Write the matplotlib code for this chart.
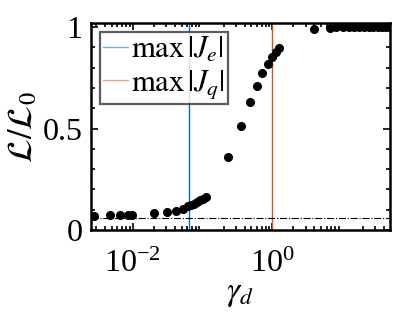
import numpy as np
import matplotlib
matplotlib.use('Agg')
import matplotlib.pyplot as plt
from matplotlib.ticker import MultipleLocator, LogLocator, NullFormatter

plt.rcParams['font.family'] = ['Liberation Serif', 'DejaVu Serif']
plt.rcParams['mathtext.fontset'] = 'stix'

# data
gamma = [0.00276, 0.00468, 0.00645, 0.00857, 0.00958, 0.0202, 0.0304, 0.041,
         0.0526, 0.062, 0.068, 0.075, 0.083, 0.092, 0.102, 0.112,
         0.232, 0.353, 0.475, 0.606, 0.723, 0.862, 0.993, 1.12, 1.25,
         3.97, 6.83, 8.33, 10.4, 12.5, 15.0, 17.5, 20.5, 24.0, 28.0, 32.5, 37.5, 43.0, 48.0]
ratio = [0.070, 0.074, 0.074, 0.075, 0.075, 0.082, 0.089, 0.095,
         0.105, 0.117, 0.122, 0.130, 0.138, 0.146, 0.155, 0.163,
         0.361, 0.512, 0.629, 0.711, 0.772, 0.818, 0.851, 0.875, 0.895,
         0.990, 0.998, 1.0, 1.0, 1.0, 1.0, 1.0, 1.0, 1.0, 1.0, 1.0, 1.0, 1.0, 1.0]
baseline = 0.058
max_Je = 0.064
max_Jq = 0.99

fig = plt.figure(figsize=(4.15, 3.12), dpi=100)
ax = fig.add_axes([0.219, 0.263, 0.7196, 0.663])

ax.axvline(max_Je, color='#0072BD', lw=1.0, label=r'$\max\,|J_e|$')
ax.axvline(max_Jq, color='#D95319', lw=1.0, label=r'$\max\,|J_q|$')
ax.axhline(baseline, color='k', lw=0.8, ls='-.')
ax.plot(gamma, ratio, 'o', color='k', ms=5.5, zorder=3)

ax.set_xscale('log')
ax.set_xlim(0.0025, 48)
ax.set_ylim(0, 1.02)
ax.set_xticks([1e-2, 1e0])
ax.xaxis.set_minor_locator(LogLocator(base=10, subs=np.arange(2, 10), numticks=20))
ax.xaxis.set_minor_formatter(NullFormatter())
ax.set_yticks([0, 0.5, 1])
ax.set_yticklabels(['0', '0.5', '1'])
ax.yaxis.set_minor_locator(MultipleLocator(0.1))

ax.tick_params(which='both', direction='in', top=True, right=True, labelsize=23, width=1.2)
ax.tick_params(which='major', length=5, pad=6)
ax.tick_params(axis='x', which='major', pad=14)
ax.tick_params(which='minor', length=3)
for s in ax.spines.values():
    s.set_linewidth(1.8)

ax.set_xlabel(r'$\gamma_d$', fontsize=24, labelpad=0)
ax.set_ylabel(r'$\mathcal{L}/\mathcal{L}_0$', fontsize=25, labelpad=2)

leg = ax.legend(loc='upper left', fontsize=22, frameon=True, fancybox=False,
                edgecolor='#333333', handlelength=0.8, handletextpad=0.1,
                handleheight=0.7, borderpad=0.1, labelspacing=0.12, borderaxespad=0.3)
leg.get_frame().set_linewidth(1.6)
for h in leg.get_lines():
    h.set_alpha(0.55)

plt.savefig('out.png', dpi=100)
